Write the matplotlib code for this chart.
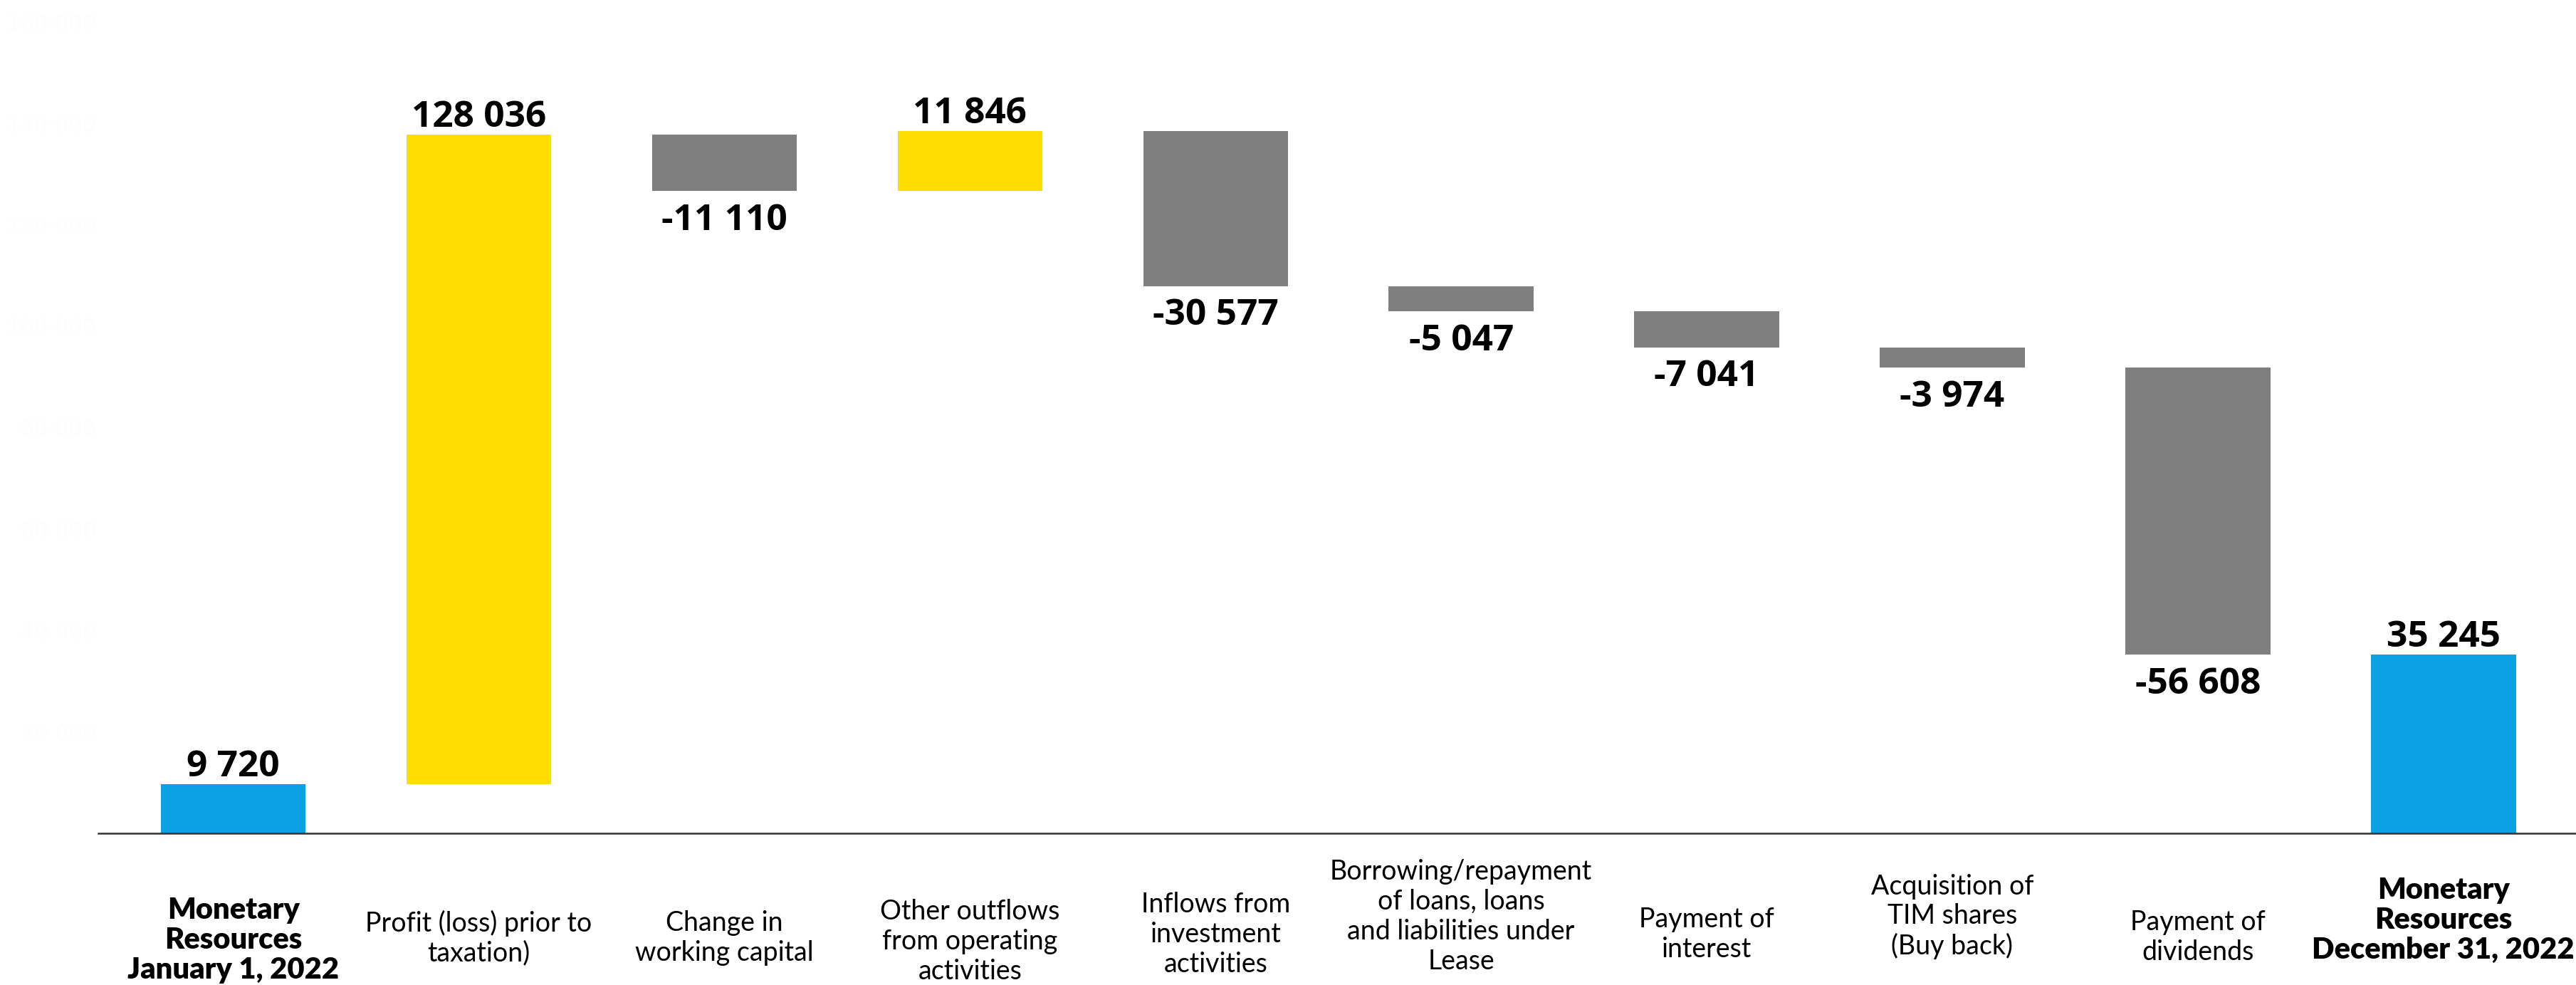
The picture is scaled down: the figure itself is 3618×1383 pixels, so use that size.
import matplotlib.pyplot as plt
import matplotlib.transforms as mtransforms
import numpy as np

# Cash flow bridge 2022 (thousands)
categories = [
    "Monetary\nResources\nJanuary 1, 2022",
    "Profit (loss) prior to\ntaxation)",
    "Change in\nworking capital",
    "Other outflows\nfrom operating\nactivities",
    "Inflows from\ninvestment\nactivities",
    "Borrowing/repayment\nof loans, loans\nand liabilities under\nLease",
    "Payment of\ninterest",
    "Acquisition of\nTIM shares\n(Buy back)",
    "Payment of\ndividends",
    "Monetary\nResources\nDecember 31, 2022",
]
values = [9720, 128036, -11110, 11846, -30577, -5047, -7041, -3974, -56608, 35245]
is_total = [True, False, False, False, False, False, False, False, False, True]
y_ticks = [20000, 40000, 60000, 80000, 100000, 120000, 140000, 160000]

BLUE = "#0BA1E2"
YELLOW = "#FFDD00"
GREY = "#7F7F7F"

# waterfall bottoms / heights
bottoms = []
heights = []
colors = []
running = 0
for v, tot in zip(values, is_total):
    if tot:
        bottoms.append(0)
        heights.append(v)
        colors.append(BLUE)
        running = v
    else:
        if v >= 0:
            bottoms.append(running)
            colors.append(YELLOW)
        else:
            bottoms.append(running + v)
            colors.append(GREY)
        heights.append(abs(v))
        running += v

fig = plt.figure(figsize=(36.18, 13.83), dpi=100)
ax = fig.add_axes([138 / 3618, 213 / 1383, 1 - 138 / 3618, 1170 / 1383])

x = np.arange(len(values))
ax.bar(x, heights, bottom=bottoms, width=0.59, color=colors, zorder=2)

ax.set_xlim(-0.55, 9.54)
ax.set_ylim(0, 164300)

for s in ["top", "right", "left"]:
    ax.spines[s].set_visible(False)
ax.spines["bottom"].set_color("#333333")
ax.spines["bottom"].set_linewidth(1.8)
ax.spines["bottom"].set_zorder(3)

# axis values are kept but almost white
ax.set_xticks([])
ax.set_yticks(y_ticks)
ax.set_yticklabels([f"{t:,}".replace(",", " ") for t in y_ticks],
                   color="#fdfdfd", fontsize=22)
ax.tick_params(axis="y", length=0, pad=2)

# value labels
for xi, v, b, h in zip(x, values, bottoms, heights):
    txt = f"{v:,}".replace(",", " ")
    if v >= 0:
        ax.annotate(txt, (xi, b + h), xytext=(0, -1), textcoords="offset points",
                    ha="center", va="bottom", fontsize=37, fontweight="bold",
                    family="Open Sans")
    else:
        ax.annotate(txt, (xi, b), xytext=(0, -12), textcoords="offset points",
                    ha="center", va="top", fontsize=37, fontweight="bold",
                    family="Open Sans")

# category labels under the axis
label_y = [1320, 1317, 1317, 1322, 1312, 1287, 1312, 1287, 1316, 1292]
trans = mtransforms.blended_transform_factory(ax.transData, fig.transFigure)
for xi, lab, ly, tot in zip(x, categories, label_y, is_total):
    ax.text(xi, 1 - ly / 1383, lab, transform=trans, ha="center", va="center",
            fontsize=30 if tot else 27, family="Lato",
            fontweight="heavy" if tot else "normal",
            linespacing=1.12 if tot else 1.2, multialignment="center")

fig.savefig("out.png", dpi=100, facecolor="white")
